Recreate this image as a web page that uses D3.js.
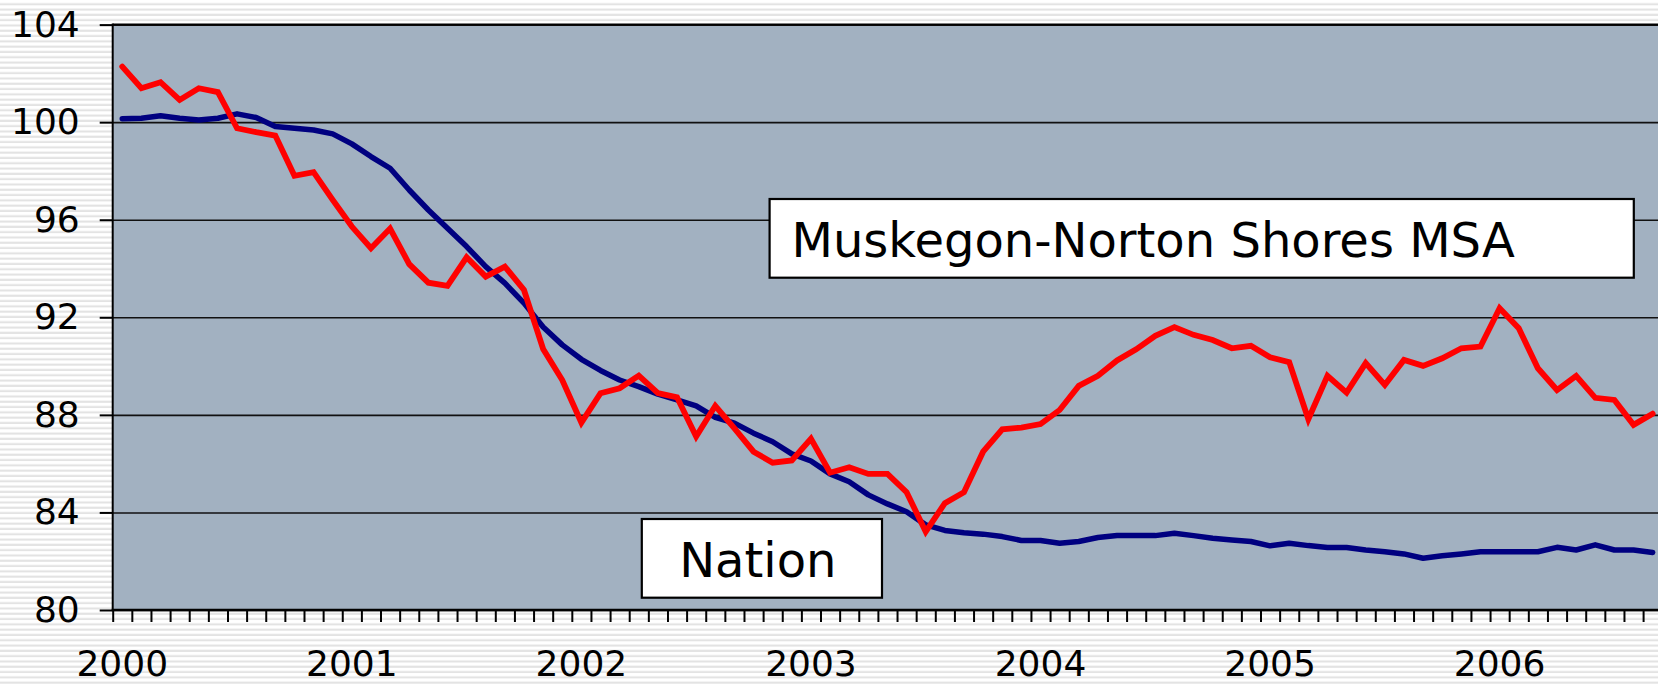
<!DOCTYPE html>
<html>
<head>
<meta charset="utf-8">
<script src="https://cdn.jsdelivr.net/npm/d3@7"></script>
<style>
  html, body { margin: 0; padding: 0; background: #fff; overflow: hidden; }
  svg { display: block; }
  text { font-family: "DejaVu Sans", Verdana, sans-serif; fill: #000; }
</style>
</head>
<body>
<svg id="chart" width="1658" height="685"></svg>
<script>
// ---- Data ----
const yearLabels = ["2000", "2001", "2002", "2003", "2004", "2005", "2006"];
const yTicks = [80, 84, 88, 92, 96, 100, 104];

// Monthly index, Jan 2000 .. Sep 2006
const muskegon = [
  102.28, 101.39, 101.64, 100.91, 101.39, 101.23, 99.75, 99.59, 99.45, 97.80, 97.95, 96.81,
  95.72, 94.83, 95.64, 94.18, 93.42, 93.29, 94.46, 93.67, 94.08, 93.12, 90.70, 89.43,
  87.68, 88.89, 89.09, 89.61, 88.89, 88.72, 87.11, 88.37, 87.45, 86.49, 86.04, 86.13,
  87.02, 85.63, 85.85, 85.58, 85.58, 84.83, 83.21, 84.38, 84.83, 86.49, 87.41, 87.48,
  87.62, 88.20, 89.19, 89.60, 90.23, 90.69, 91.24, 91.60, 91.28, 91.07, 90.73, 90.83,
  90.36, 90.16, 87.82, 89.60, 88.91, 90.12, 89.23, 90.25, 90.01, 90.32, 90.73, 90.80,
  92.37, 91.55, 89.91, 89.02, 89.60, 88.70, 88.61, 87.59, 88.05
];
const nation = [
  100.14, 100.16, 100.26, 100.16, 100.09, 100.16, 100.34, 100.19, 99.82, 99.75, 99.68, 99.52,
  99.11, 98.59, 98.11, 97.22, 96.40, 95.65, 94.90, 94.08, 93.40, 92.58, 91.60, 90.87,
  90.28, 89.82, 89.43, 89.16, 88.85, 88.61, 88.37, 87.90, 87.66, 87.25, 86.90, 86.40,
  86.11, 85.58, 85.26, 84.72, 84.35, 84.03, 83.49, 83.26, 83.17, 83.11, 83.01, 82.85,
  82.85, 82.74, 82.81, 82.97, 83.05, 83.05, 83.05, 83.15, 83.05, 82.94, 82.87, 82.81,
  82.63, 82.74, 82.64, 82.56, 82.56, 82.46, 82.39, 82.30, 82.12, 82.22, 82.30, 82.39,
  82.39, 82.39, 82.39, 82.57, 82.46, 82.67, 82.46, 82.46, 82.36
];
const labelMSA = "Muskegon-Norton Shores MSA";
const labelNation = "Nation";

(function () {
// categories (months)
const months = [];
for (let i = 0; i < muskegon.length; i++) {
  const yr = 2000 + Math.floor(i / 12), m = (i % 12) + 1;
  months.push(yr + "-" + (m < 10 ? "0" + m : m));
}

// ---- Layout ----
const W = 1658, H = 685;
const pLeft = 112.7, pTop = 24.6, pBottom = 610;
const step = 19.13;
const pRight = pLeft + months.length * step;

const svg = d3.select("#chart");

// striped background
const defs = svg.append("defs");
const pat = defs.append("pattern").attr("id", "stripes")
  .attr("patternUnits", "userSpaceOnUse").attr("width", 20).attr("height", 5.3);
pat.append("rect").attr("width", 20).attr("height", 5.3).attr("fill", "#ffffff");
pat.append("rect").attr("y", 3.2).attr("width", 20).attr("height", 2.1).attr("fill", "#e3e3e3");
svg.append("rect").attr("width", W).attr("height", H).attr("fill", "url(#stripes)");

const x = d3.scaleBand().domain(months).range([pLeft, pRight]).padding(0);
const xb = d3.scaleLinear().domain([0, months.length]).range([pLeft, pRight]);
const y = d3.scaleLinear().domain([80, 104]).range([pBottom, pTop]);

// plot area
svg.append("rect").attr("x", pLeft).attr("y", pTop)
  .attr("width", pRight - pLeft).attr("height", pBottom - pTop)
  .attr("fill", "#a2b1c1");

// gridlines
const grid = svg.append("g").attr("transform", `translate(${pLeft},0)`)
  .call(d3.axisLeft(y).tickValues(yTicks).tickSize(-(pRight - pLeft)).tickFormat(""));
grid.select(".domain").remove();
grid.selectAll("line").attr("stroke", "#111").attr("stroke-width", 1.6);

// lines
const line = d3.line()
  .x((d, i) => x(months[i]) + x.bandwidth() / 2)
  .y(d => y(d));

svg.append("path").datum(nation)
  .attr("fill", "none").attr("stroke", "#000080").attr("stroke-width", 5.5)
  .attr("stroke-linejoin", "round").attr("stroke-linecap", "round")
  .attr("d", line);
svg.append("path").datum(muskegon)
  .attr("fill", "none").attr("stroke", "#ff0000").attr("stroke-width", 5.8)
  .attr("stroke-linejoin", "miter").attr("stroke-miterlimit", 3).attr("stroke-linecap", "round")
  .attr("d", line);

// y axis
const yAxis = svg.append("g").attr("transform", `translate(${pLeft},0)`)
  .call(d3.axisLeft(y).tickValues(yTicks).tickSize(13).tickPadding(20).tickFormat(d3.format("d")));
yAxis.select(".domain").remove();
yAxis.selectAll("line").attr("stroke", "#000").attr("stroke-width", 2);
yAxis.selectAll("text").style("font-size", "36px").attr("fill", "#000")
  .style("font-family", '"DejaVu Sans", Verdana, sans-serif');

// x minor ticks at month boundaries
const xTicks = svg.append("g").attr("transform", `translate(0,${pBottom})`)
  .call(d3.axisBottom(xb).tickValues(d3.range(0, months.length + 1)).tickSize(12).tickFormat(""));
xTicks.select(".domain").remove();
xTicks.selectAll("line").attr("stroke", "#000").attr("stroke-width", 2);

// year labels
const janMonths = months.filter(m => m.endsWith("-01"));
const xLab = svg.append("g").attr("transform", `translate(0,${pBottom})`)
  .call(d3.axisBottom(x).tickValues(janMonths).tickSize(0).tickPadding(40)
    .tickFormat(m => yearLabels[janMonths.indexOf(m)]));
xLab.select(".domain").remove();
xLab.selectAll("text").style("font-size", "36px").attr("fill", "#000")
  .style("font-family", '"DejaVu Sans", Verdana, sans-serif');

// axis frame lines
svg.append("line").attr("x1", pLeft).attr("x2", pRight).attr("y1", pTop).attr("y2", pTop)
  .attr("stroke", "#000").attr("stroke-width", 2);
svg.append("line").attr("x1", pLeft).attr("x2", pLeft).attr("y1", pTop - 1).attr("y2", pBottom + 1)
  .attr("stroke", "#000").attr("stroke-width", 2);
svg.append("line").attr("x1", pLeft - 1).attr("x2", pRight).attr("y1", pBottom).attr("y2", pBottom)
  .attr("stroke", "#000").attr("stroke-width", 2.4);

// text boxes
function box(x0, y0, x1, y1, label, tx, ty, anchor) {
  svg.append("rect").attr("x", x0).attr("y", y0).attr("width", x1 - x0).attr("height", y1 - y0)
    .attr("fill", "#fff").attr("stroke", "#000").attr("stroke-width", 2.2);
  svg.append("text").attr("x", tx).attr("y", ty).attr("text-anchor", anchor)
    .style("font-size", "48px").text(label);
}
box(769.6, 199, 1633.8, 277.7, labelMSA, 791.5, 257.3, "start");
box(641.8, 519, 882, 597.7, labelNation, 757.8, 577.3, "middle");
})();
</script>
</body>
</html>
